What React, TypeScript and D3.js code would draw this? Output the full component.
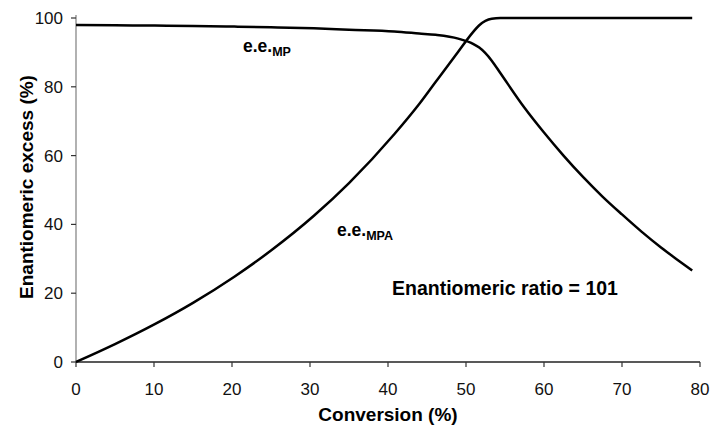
import React from "react";
import * as d3 from "d3";

const conversion = [0, 5, 10.1, 15, 20.3, 25, 30.5, 35, 40.8, 44, 46.1, 49.0, 50.9, 51.7, 53.3, 54.4, 57.5, 60, 62.5, 65, 67.5, 70, 72.5, 75, 77, 79];
const eeMPA = [0, 5.2, 11.0, 17.2, 24.8, 32.4, 42.5, 52.0, 66.2, 75.0, 81.4, 90.2, 95.9, 97.9, 99.8, 100, 100, 100, 100, 100, 100, 100, 100, 100, 100, 100];
const eeMP = [98.0, 97.9, 97.8, 97.7, 97.5, 97.3, 97.0, 96.6, 96.1, 95.5, 95.1, 94.0, 92.5, 91.4, 87.6, 84.0, 73.9, 66.7, 60.0, 53.8, 48.1, 42.9, 37.9, 33.3, 29.9, 26.6];
const xTicks = [0, 10, 20, 30, 40, 50, 60, 70, 80];
const yTicks = [0, 20, 40, 60, 80, 100];

const W = 712, H = 428;
const left = 76, right = 700, top = 18, bottom = 362;
const font = "'Liberation Sans', Arial, sans-serif";

export default function App() {
  const x = d3.scaleLinear().domain([0, 80]).range([left, right]);
  const y = d3.scaleLinear().domain([0, 100]).range([bottom, top]);
  const line = d3.line<number>()
    .x((_, i) => x(conversion[i]))
    .y((d) => y(d))
    .curve(d3.curveMonotoneX);

  return (
    <svg width={W} height={H} style={{ position: "absolute", left: 0, top: 0, background: "#fff" }} fontFamily={font}>
      <rect x={0} y={0} width={W} height={H} fill="#fff" />
      {/* y axis */}
      <line x1={left} x2={left} y1={top - 3} y2={bottom} stroke="#888" strokeWidth={1.3} />
      {yTicks.map((t) => (
        <g key={"y" + t}>
          <line x1={left - 5} x2={left} y1={y(t)} y2={y(t)} stroke="#333" strokeWidth={1.2} />
          <text x={63} y={y(t)} dy="0.35em" textAnchor="end" fontSize={17} fill="#111">{t}</text>
        </g>
      ))}
      {/* x axis */}
      <line x1={left} x2={right} y1={bottom} y2={bottom} stroke="#222" strokeWidth={1.3} />
      {xTicks.map((t) => (
        <g key={"x" + t}>
          <line x1={x(t)} x2={x(t)} y1={bottom} y2={bottom + 5} stroke="#333" strokeWidth={1.2} />
          <text x={x(t)} y={395} textAnchor="middle" fontSize={17} fill="#111">{t}</text>
        </g>
      ))}
      {/* titles */}
      <text x={388} y={421} textAnchor="middle" fontSize={19} fontWeight="bold" fill="#000">Conversion (%)</text>
      <text transform="translate(33,187) rotate(-90)" textAnchor="middle" fontSize={19} fontWeight="bold" fill="#000">Enantiomeric excess (%)</text>
      {/* curves */}
      <path d={line(eeMP) || ""} fill="none" stroke="#000" strokeWidth={2.5} strokeLinejoin="round" />
      <path d={line(eeMPA) || ""} fill="none" stroke="#000" strokeWidth={2.5} strokeLinejoin="round" />
      {/* annotations */}
      <text x={243} y={52} fontSize={17.5} fontWeight="bold" fill="#000">
        e.e.<tspan fontSize={12.5} dy={4}>MP</tspan>
      </text>
      <text x={337} y={236} fontSize={17.5} fontWeight="bold" fill="#000">
        e.e.<tspan fontSize={12.5} dy={4}>MPA</tspan>
      </text>
      <text x={392} y={295} fontSize={19.5} fontWeight="bold" fill="#000">Enantiomeric ratio = 101</text>
    </svg>
  );
}
